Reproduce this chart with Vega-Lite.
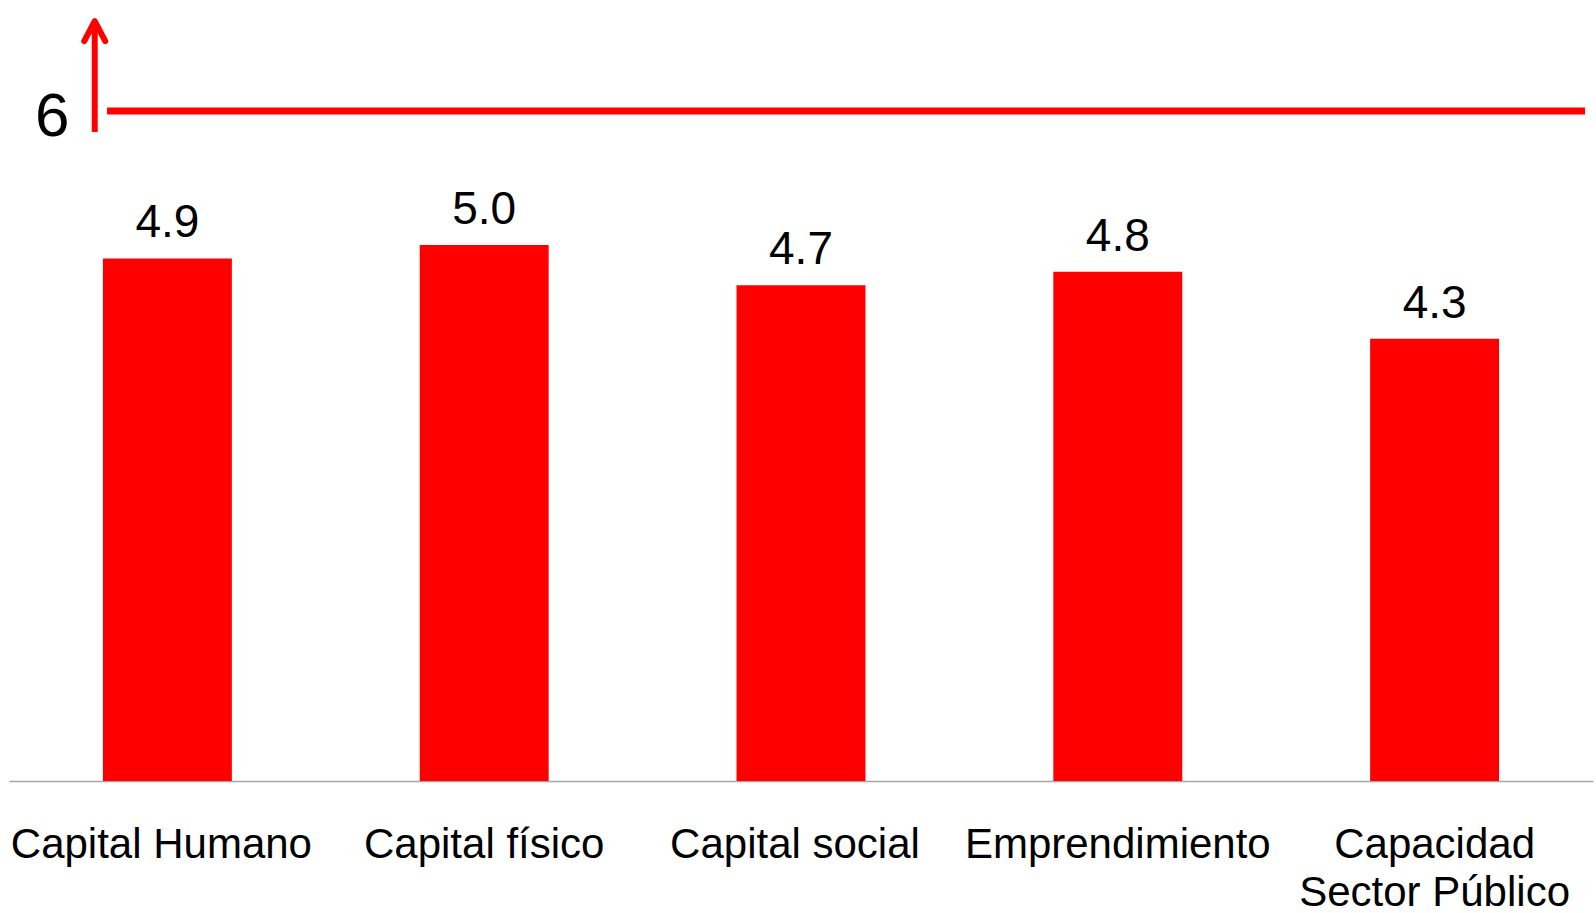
{
  "$schema": "https://vega.github.io/schema/vega-lite/v6.json",
  "autosize": {"type": "none"},
  "padding": {"left": 9, "top": 111, "right": 3, "bottom": 132},
  "width": 1584,
  "height": 670,
  "background": "white",
  "config": {
    "view": {"stroke": null},
    "font": "Liberation Sans"
  },
  "datasets": {
    "pilares": [
      {"categoria": "Capital Humano", "valor": 4.9},
      {"categoria": "Capital físico", "valor": 5.0},
      {"categoria": "Capital social", "valor": 4.7},
      {"categoria": "Emprendimiento", "valor": 4.8},
      {"categoria": "Capacidad Sector Público", "valor": 4.3}
    ],
    "referencia": [
      {"inicio": "Capital Humano", "fin": "Capacidad Sector Público", "nivel": 6, "etiqueta": "6", "flecha_desde": 5.843, "flecha_hasta": 6.67}
    ]
  },
  "layer": [
    {
      "data": {"name": "pilares"},
      "mark": {"type": "bar", "color": "#ff0000"},
      "encoding": {
        "x": {
          "field": "categoria",
          "type": "nominal",
          "scale": {
            "domain": ["Capital Humano", "Capital físico", "Capital social", "Emprendimiento", "Capacidad Sector Público"],
            "paddingInner": 0.593,
            "paddingOuter": 0.2965
          },
          "axis": {
            "title": null,
            "labelAngle": 0,
            "labelFont": "Liberation Sans",
            "labelFontSize": 42,
            "labelColor": "#000000",
            "labelPadding": 43,
            "labelBaseline": "top",
            "labelLineHeight": 48,
            "labelLimit": 500,
            "labelOverlap": false,
            "ticks": false,
            "domainColor": "#a6a6a6",
            "domainWidth": 1.5,
            "labelOffset": {"condition": {"test": "datum.value == 'Capital Humano' || datum.value == 'Capital social'", "value": -6}, "value": 0},
            "labelExpr": "datum.value == 'Capacidad Sector Público' ? ['Capacidad', 'Sector Público'] : datum.value"
          }
        },
        "y": {
          "field": "valor",
          "type": "quantitative",
          "scale": {"domain": [1, 6], "zero": false, "nice": false},
          "axis": null
        },
        "y2": {"datum": 1}
      }
    },
    {
      "data": {"name": "pilares"},
      "mark": {"type": "text", "baseline": "alphabetic", "align": "center", "dy": -21, "fontSize": 46, "color": "#000000", "font": "Liberation Sans"},
      "encoding": {
        "x": {"field": "categoria", "type": "nominal"},
        "y": {"field": "valor", "type": "quantitative"},
        "text": {"field": "valor", "type": "quantitative", "format": ".1f"}
      }
    },
    {
      "data": {"name": "referencia"},
      "mark": {"type": "rule", "color": "#ff0000", "strokeWidth": 7, "strokeCap": "butt"},
      "encoding": {
        "x": {"field": "inicio", "type": "nominal", "bandPosition": 0.032},
        "x2": {"field": "fin", "bandPosition": 1.667},
        "y": {"field": "nivel", "type": "quantitative"}
      }
    },
    {
      "data": {"name": "referencia"},
      "mark": {"type": "rule", "color": "#ff0000", "strokeWidth": 6, "strokeCap": "butt"},
      "encoding": {
        "x": {"field": "inicio", "type": "nominal", "bandPosition": -0.0636},
        "y": {"field": "flecha_desde", "type": "quantitative"},
        "y2": {"field": "flecha_hasta"}
      }
    },
    {
      "data": {"name": "referencia"},
      "mark": {"type": "point", "shape": "M-1,1.9L0,0L1,1.9", "size": 441, "filled": false, "stroke": "#ff0000", "strokeWidth": 6, "strokeCap": "round", "strokeJoin": "round", "opacity": 1},
      "encoding": {
        "x": {"field": "inicio", "type": "nominal", "bandPosition": -0.0636},
        "y": {"field": "flecha_hasta", "type": "quantitative"}
      }
    },
    {
      "data": {"name": "referencia"},
      "mark": {"type": "text", "align": "right", "baseline": "alphabetic", "dy": 25, "fontSize": 62, "color": "#000000", "font": "Liberation Sans"},
      "encoding": {
        "x": {"field": "inicio", "type": "nominal", "bandPosition": -0.259},
        "y": {"field": "nivel", "type": "quantitative"},
        "text": {"field": "etiqueta"}
      }
    }
  ]
}
